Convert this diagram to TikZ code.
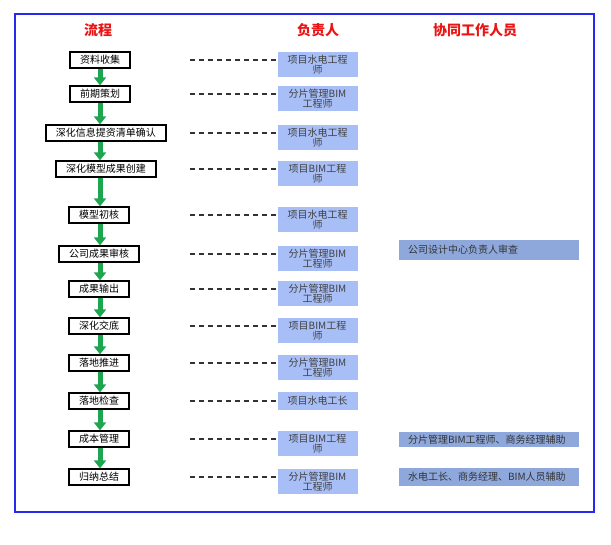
\documentclass[tikz,border=0pt]{standalone}
\usepackage{fontspec}
\setmainfont{Noto Sans CJK SC}
\usepackage{tikz}
\usetikzlibrary{arrows.meta}
\usetikzlibrary{positioning}

\definecolor{framecol}{RGB}{40,40,240}
\definecolor{headred}{RGB}{235,20,20}
\definecolor{ownerblue}{RGB}{168,190,246}
\definecolor{helpblue}{RGB}{142,168,220}
\definecolor{flowgreen}{RGB}{30,165,80}

\begin{document}
\begin{tikzpicture}[x=1pt, y=-1pt,
        head/.style={text=headred, font=\fontsize{14}{14}\selectfont\bfseries},
        flow/.style={draw, line width=1.3pt, fill=white, inner xsep=10pt, inner ysep=0pt,
            minimum height=16pt, font=\fontsize{10}{10}\selectfont},
        owner/.style={fill=ownerblue, text=black!75, minimum width=80pt, minimum height=25pt,
            inner sep=1pt, align=center, font=\fontsize{10}{8.5}\selectfont},
        helper/.style={fill=helpblue, text=black!80, text width=168pt, inner xsep=6pt,
            inner ysep=0pt, align=left, font=\fontsize{10}{10}\selectfont},
        dashline/.style={dash pattern=on 5pt off 4pt, line width=1.2pt, black!80},
        down/.style={flowgreen, line width=5pt, -{Triangle[width=12pt,length=8pt]}}]
        \useasboundingbox (0,0) rectangle (611,545);
        \draw[framecol, line width=1.2pt] (15,14) rectangle (594,512);

        % column titles
        \node[head] (h1) at (98,30) {流程};
        \node[head] (h2) at (318,30) {负责人};
        \node[head] (h3) at (475,30) {协同工作人员};

        % process steps
        \node[flow] (a) at (100,60) {资料收集};
        \node[flow] (b) at (100,94) {前期策划};
        \node[flow] (c) at (106,133) {深化信息提资清单确认};
        \node[flow] (d) at (106,169) {深化模型成果创建};
        \node[flow] (e) at (99,215) {模型初核};
        \node[flow] (f) at (99,254) {公司成果审核};
        \node[flow] (g) at (99,289) {成果输出};
        \node[flow] (h) at (99,326) {深化交底};
        \node[flow] (i) at (99,363) {落地推进};
        \node[flow] (j) at (99,401) {落地检查};
        \node[flow] (k) at (99,439) {成本管理};
        \node[flow] (l) at (99,477) {归纳总结};

        % responsible people
        \node[owner] (oa) at (317.5,64.5) {项目水电工程\\师};
        \node[owner] (ob) at (317.5,98.5) {分片管理BIM\\工程师};
        \node[owner] (oc) at (317.5,137.5) {项目水电工程\\师};
        \node[owner] (od) at (317.5,173.5) {项目BIM工程\\师};
        \node[owner] (oe) at (317.5,219.5) {项目水电工程\\师};
        \node[owner] (of) at (317.5,258.5) {分片管理BIM\\工程师};
        \node[owner] (og) at (317.5,293.5) {分片管理BIM\\工程师};
        \node[owner] (oh) at (317.5,330.5) {项目BIM工程\\师};
        \node[owner] (oi) at (317.5,367.5) {分片管理BIM\\工程师};
        \node[owner, minimum height=17.5pt] (oj) at (317.5,401) {项目水电工长};
        \node[owner] (ok) at (317.5,443.5) {项目BIM工程\\师};
        \node[owner] (ol) at (317.5,481.5) {分片管理BIM\\工程师};

        % co-workers
        \node[helper, minimum height=20pt] (cf) at (489,250) {\hspace{3pt}公司设计中心负责人审查};
        \node[helper, minimum height=15pt] (ck) at (489,440) {\hspace{3pt}分片管理BIM工程师、商务经理辅助};
        \node[helper, minimum height=17pt] (cl) at (489,477) {\hspace{3pt}水电工长、商务经理、BIM人员辅助};

        \coordinate (lx) at (190,0);

        \path[down] (a.south -| a) edge (a |- b.north)
              (b.south -| a) edge (a |- c.north)
              (c.south -| a) edge (a |- d.north)
              (d.south -| a) edge (a |- e.north)
              (e.south -| a) edge (a |- f.north)
              (f.south -| a) edge (a |- g.north)
              (g.south -| a) edge (a |- h.north)
              (h.south -| a) edge (a |- i.north)
              (i.south -| a) edge (a |- j.north)
              (j.south -| a) edge (a |- k.north)
              (k.south -| a) edge (a |- l.north);

        \path[dashline] (a -| lx) edge (a -| oa.west)
              (b -| lx) edge (b -| ob.west)
              (c -| lx) edge (c -| oc.west)
              (d -| lx) edge (d -| od.west)
              (e -| lx) edge (e -| oe.west)
              (f -| lx) edge (f -| of.west)
              (g -| lx) edge (g -| og.west)
              (h -| lx) edge (h -| oh.west)
              (i -| lx) edge (i -| oi.west)
              (j -| lx) edge (j -| oj.west)
              (k -| lx) edge (k -| ok.west)
              (l -| lx) edge (l -| ol.west);
\end{tikzpicture}
\end{document}
